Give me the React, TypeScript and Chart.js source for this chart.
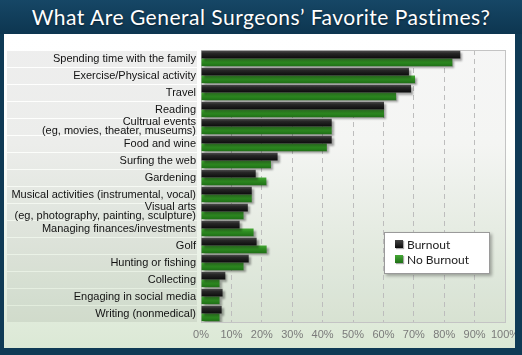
import React, { useEffect, useRef } from 'react';
import { Chart, registerables } from 'chart.js';

Chart.register(...registerables);

const categories: (string | string[])[] = [
  'Spending time with the family',
  'Exercise/Physical activity',
  'Travel',
  'Reading',
  ['Cultrual events', '(eg, movies, theater, museums)'],
  'Food and wine',
  'Surfing the web',
  'Gardening',
  'Musical activities (instrumental, vocal)',
  ['Visual arts', '(eg, photography, painting, sculpture)'],
  'Managing finances/investments',
  'Golf',
  'Hunting or fishing',
  'Collecting',
  'Engaging in social media',
  'Writing (nonmedical)',
];

const burnout = [85.3, 68.4, 69.1, 60.2, 43.0, 43.0, 25.2, 18.0, 16.7, 15.4, 12.7, 18.3, 15.7, 8.0, 7.1, 6.8];
const noBurnout = [82.7, 70.4, 64.2, 60.2, 43.0, 41.4, 23.0, 21.5, 16.7, 14.0, 17.3, 21.6, 14.0, 6.1, 6.1, 6.1];

const seriesNames = ['Burnout', 'No Burnout'];
const xTickValues = [0, 10, 20, 30, 40, 50, 60, 70, 80, 90, 100];
const titleText = 'What Are General Surgeons\u2019 Favorite Pastimes?';

const CAT_PCT = 0.9;

const makeGrad = (stops: [number, string][], fallback: string) => (context: any) => {
  const chart = context.chart;
  if (!chart.chartArea || context.type !== 'data') return fallback;
  const y = chart.scales.y;
  if (!y) return fallback;
  const c = y.getPixelForValue(context.dataIndex);
  const step = (chart.chartArea.bottom - chart.chartArea.top) / categories.length;
  const half = (step * CAT_PCT) / 2;
  const y0 = context.datasetIndex === 0 ? c - half : c;
  const g = chart.ctx.createLinearGradient(0, y0, 0, y0 + half);
  stops.forEach(([p, col]) => g.addColorStop(p, col));
  return g;
};

const decorPlugin = {
  id: 'decor',
  beforeDraw(chart: any) {
    const { ctx, chartArea } = chart;
    const n = categories.length;
    const step = (chartArea.bottom - chartArea.top) / n;
    ctx.save();
    ctx.fillStyle = 'rgba(0,0,0,0.065)';
    for (let i = 0; i < n; i++) {
      const top = chartArea.top + i * step;
      ctx.fillRect(3, Math.round(top) + 1, chartArea.left - 7, Math.round(step) - 1);
    }
    ctx.fillStyle = 'rgba(0,0,0,0.035)';
    ctx.fillRect(chartArea.left, chartArea.top, chartArea.right - chartArea.left, chartArea.bottom - chartArea.top);
    ctx.restore();
  },
  beforeDatasetsDraw(chart: any) {
    const { ctx, chartArea } = chart;
    ctx.save();
    ctx.strokeStyle = '#c4c4c4';
    ctx.lineWidth = 1;
    ctx.strokeRect(
      Math.round(chartArea.left) + 0.5,
      Math.round(chartArea.top) + 0.5,
      Math.round(chartArea.right - chartArea.left),
      Math.round(chartArea.bottom - chartArea.top)
    );
    ctx.restore();
    ctx.save();
    ctx.shadowColor = 'rgba(0,0,0,0.35)';
    ctx.shadowOffsetX = 2;
    ctx.shadowOffsetY = 2;
    ctx.shadowBlur = 2;
  },
  afterDatasetsDraw(chart: any) {
    chart.ctx.restore();
  },
};

function BarChart() {
  const ref = useRef<HTMLCanvasElement | null>(null);
  useEffect(() => {
    if (!ref.current) return;
    const chart = new Chart(ref.current, {
      type: 'bar',
      data: {
        labels: categories as any,
        datasets: [
          {
            label: seriesNames[0],
            data: burnout,
            backgroundColor: makeGrad([[0, '#4a4a4a'], [0.35, '#262626'], [1, '#0c0c0c']], '#1e1e1e'),
            borderWidth: 0,
            categoryPercentage: CAT_PCT,
            barPercentage: 1,
          },
          {
            label: seriesNames[1],
            data: noBurnout,
            backgroundColor: makeGrad([[0, '#45a835'], [0.4, '#2f8d22'], [1, '#1f7016']], '#2f8c22'),
            borderWidth: 0,
            categoryPercentage: CAT_PCT,
            barPercentage: 1,
          },
        ],
      },
      options: {
        indexAxis: 'y',
        responsive: false,
        animation: false,
        devicePixelRatio: 1,
        layout: { padding: { left: 0, right: 10, top: 16, bottom: 0 } },
        plugins: {
          legend: { display: false },
          tooltip: { enabled: false },
        },
        scales: {
          x: {
            min: 0,
            max: 100,
            afterBuildTicks: (scale: any) => {
              scale.ticks = xTickValues.map((v) => ({ value: v }));
            },
            afterFit: (scale: any) => {
              scale.height = 26;
              scale.paddingLeft = 0;
              scale.paddingRight = 0;
            },
            ticks: {
              callback: (v: any) => v + '%',
              color: '#7a7a7a',
              font: { family: 'Liberation Sans', size: 11 },
              padding: 6,
              maxRotation: 0,
              autoSkip: false,
            },
            grid: {
              color: (c: any) => (c.tick && (c.tick.value === 0 || c.tick.value === 100) ? 'rgba(0,0,0,0)' : '#bdbdbd'),
              drawTicks: false,
              lineWidth: 1,
            },
            border: { display: false, dash: [5, 4] },
          },
          y: {
            afterFit: (scale: any) => {
              scale.width = 197;
              scale.paddingTop = 0;
              scale.paddingBottom = 0;
            },
            ticks: {
              color: '#111',
              font: { family: 'Liberation Sans', size: 11, lineHeight: 0.8 },
              padding: 5,
              autoSkip: false,
            },
            grid: { display: false, drawTicks: false },
            border: { display: false },
          },
        },
      } as any,
      plugins: [decorPlugin],
    });
    return () => chart.destroy();
  }, []);
  return <canvas ref={ref} width={511} height={314} style={{ display: 'block', width: 511, height: 314 }} />;
}

export default function App() {
  const dark = '#0f3a55';
  return (
    <div
      style={{
        position: 'fixed',
        left: 0,
        top: 0,
        width: 522,
        height: 355,
        background: dark,
        overflow: 'hidden',
      }}
    >
      <div
        style={{
          position: 'absolute',
          left: 0,
          top: 0,
          width: 522,
          height: 34,
          lineHeight: '34px',
          textAlign: 'center',
          color: '#fff',
          fontFamily: 'Lato, "Open Sans", sans-serif',
          fontSize: 21,
          letterSpacing: 0.5,
          textShadow: '0 1px 2px rgba(0,0,0,0.5)',
          background: 'linear-gradient(to bottom, #164766, #0d3650)',
        }}
      >
        {titleText}
      </div>
      <div
        style={{
          position: 'absolute',
          left: 4,
          top: 34,
          width: 511,
          height: 314,
          background: 'linear-gradient(to bottom, #ffffff 0%, #fdfefc 35%, #dbe8d5 100%)',
        }}
      >
        <BarChart />
      </div>
      <div
        style={{
          position: 'absolute',
          left: 384,
          top: 232,
          width: 104,
          height: 40,
          background: '#fff',
          border: '1px solid #9a9a9a',
          boxShadow: '2px 2px 3px rgba(0,0,0,0.3)',
          fontFamily: 'Lato, "Open Sans", sans-serif',
          fontSize: 12,
          color: '#222',
        }}
      >
        {seriesNames.map((name, i) => (
          <div
            key={name}
            style={{ position: 'absolute', left: 10, top: 4 + i * 15, height: 14, display: 'flex', alignItems: 'center' }}
          >
            <span
              style={{
                display: 'inline-block',
                width: 8,
                height: 8,
                marginRight: 4,
                background: i === 0 ? 'linear-gradient(#444, #0c0c0c)' : 'linear-gradient(#45a835, #1f7016)',
                boxShadow: '1px 1px 1px rgba(0,0,0,0.35)',
              }}
            />
            <span>{name}</span>
          </div>
        ))}
      </div>
    </div>
  );
}
